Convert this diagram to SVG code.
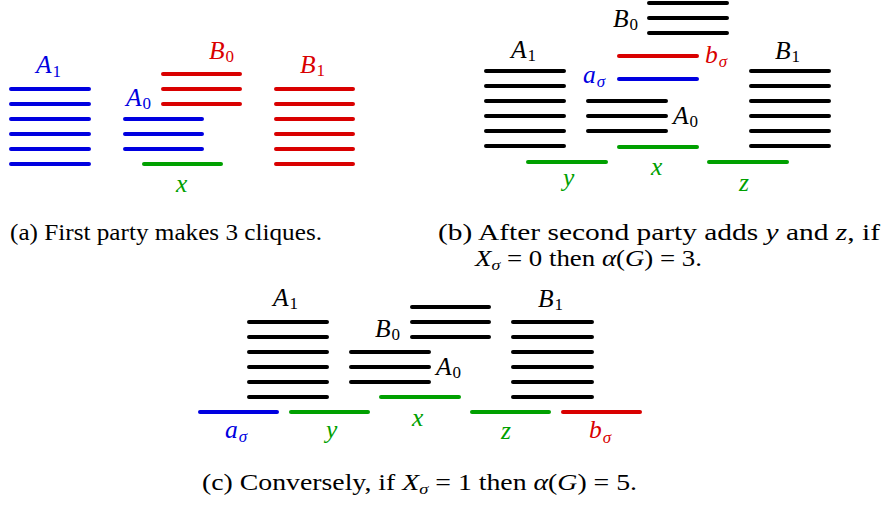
<svg xmlns="http://www.w3.org/2000/svg" width="884" height="505" viewBox="0 0 884 505">
<style>
.ln{fill:none;stroke-width:4;stroke-linecap:round}
.bl{stroke:#0000e0}.rd{stroke:#d90000}.gr{stroke:#00a000}.bk{stroke:#000}
.m{font-style:italic;font-size:25.5px}
.s{font-size:17px;font-style:normal}
.g{font-size:17px}
.tb{fill:#0000e0}.tr{fill:#d90000}.tg{fill:#00a000}.tk{fill:#000}
.cap{font-size:22.5px;fill:#000}
.i{font-style:italic}
</style>
<rect width="884" height="505" fill="#fff"/>
<!-- Panel (a) -->
<g id="a-A1"><path class="ln bl" d="M11 89H89M11 104H89M11 119H89M11 134H89M11 149H89M11 164H89"/><text font-family="Liberation Serif" class="m tb" x="36" y="73">A<tspan class="s" dx="1" dy="4">1</tspan></text></g>
<g id="a-A0"><path class="ln bl" d="M125 119H202M125 134H202M125 149H202"/><text font-family="Liberation Serif" class="m tb" x="126" y="106">A<tspan class="s" dx="1" dy="3">0</tspan></text></g>
<g id="a-B0"><path class="ln rd" d="M163 74H240M163 89H240M163 104H240"/><text font-family="Liberation Serif" class="m tr" x="209" y="59">B<tspan class="s" dx="1" dy="3">0</tspan></text></g>
<g id="a-B1"><path class="ln rd" d="M276 89H353M276 104H353M276 119H353M276 134H353M276 149H353M276 164H353"/><text font-family="Liberation Serif" class="m tr" x="300" y="73">B<tspan class="s" dx="1" dy="3">1</tspan></text></g>
<g id="a-x"><path class="ln gr" d="M144 164H221"/><text font-family="Liberation Serif" class="m tg" x="176" y="192">x</text></g>
<!-- Panel (b) -->
<g id="b-B0"><path class="ln bk" d="M649 3H727M649 18H727M649 33H727"/><text font-family="Liberation Serif" class="m tk" x="613" y="27">B<tspan class="s" dx="1" dy="3">0</tspan></text></g>
<g id="b-bs"><path class="ln rd" d="M619 56H697"/><text font-family="Liberation Serif" class="m tr" x="705" y="63">b<tspan class="g" dx="1" dy="4">σ</tspan></text></g>
<g id="b-as"><path class="ln bl" d="M619 79H697"/><text font-family="Liberation Serif" class="m tb" x="583" y="83">a<tspan class="g" dx="1" dy="4">σ</tspan></text></g>
<g id="b-A1"><path class="ln bk" d="M486 71H564M486 86H564M486 101H564M486 116H564M486 131H564M486 146H564"/><text font-family="Liberation Serif" class="m tk" x="511" y="58">A<tspan class="s" dx="1" dy="3">1</tspan></text></g>
<g id="b-A0"><path class="ln bk" d="M588 101H666M588 116H666M588 131H666"/><text font-family="Liberation Serif" class="m tk" x="673" y="124">A<tspan class="s" dx="1" dy="3">0</tspan></text></g>
<g id="b-x"><path class="ln gr" d="M619 147H697"/><text font-family="Liberation Serif" class="m tg" x="651" y="175">x</text></g>
<g id="b-y"><path class="ln gr" d="M528 162H606"/><text font-family="Liberation Serif" class="m tg" x="563" y="186">y</text></g>
<g id="b-z"><path class="ln gr" d="M709 162H787"/><text font-family="Liberation Serif" class="m tg" x="739" y="191">z</text></g>
<g id="b-B1"><path class="ln bk" d="M751 71H829M751 86H829M751 101H829M751 116H829M751 131H829M751 146H829"/><text font-family="Liberation Serif" class="m tk" x="775" y="59">B<tspan class="s" dx="1" dy="3">1</tspan></text></g>
<!-- Panel (c) -->
<g id="c-A1"><path class="ln bk" d="M249 322H327M249 337H327M249 352H327M249 367H327M249 382H327M249 397H327"/><text font-family="Liberation Serif" class="m tk" x="273" y="306">A<tspan class="s" dx="1" dy="3">1</tspan></text></g>
<g id="c-B0"><path class="ln bk" d="M412 307H489M412 322H489M412 337H489"/><text font-family="Liberation Serif" class="m tk" x="375" y="337">B<tspan class="s" dx="1" dy="3">0</tspan></text></g>
<g id="c-A0"><path class="ln bk" d="M351 352H429M351 367H429M351 382H429"/><text font-family="Liberation Serif" class="m tk" x="436" y="375">A<tspan class="s" dx="1" dy="3">0</tspan></text></g>
<g id="c-B1"><path class="ln bk" d="M513 322H592M513 337H592M513 352H592M513 367H592M513 382H592M513 397H592"/><text font-family="Liberation Serif" class="m tk" x="538" y="307">B<tspan class="s" dx="1" dy="3">1</tspan></text></g>
<g id="c-x"><path class="ln gr" d="M381 397H459"/><text font-family="Liberation Serif" class="m tg" x="412" y="426">x</text></g>
<g id="c-as"><path class="ln bl" d="M200 412H277"/><text font-family="Liberation Serif" class="m tb" x="225" y="438">a<tspan class="g" dx="1" dy="4">σ</tspan></text></g>
<g id="c-y"><path class="ln gr" d="M291 412H368"/><text font-family="Liberation Serif" class="m tg" x="326" y="438">y</text></g>
<g id="c-z"><path class="ln gr" d="M472 412H549"/><text font-family="Liberation Serif" class="m tg" x="501" y="439">z</text></g>
<g id="c-bs"><path class="ln rd" d="M563 412H640"/><text font-family="Liberation Serif" class="m tr" x="589" y="438">b<tspan class="g" dx="1" dy="5">σ</tspan></text></g>
<!-- Captions -->
<text font-family="Liberation Serif" class="cap" x="10" y="240" textLength="312" lengthAdjust="spacingAndGlyphs">(a) First party makes 3 cliques.</text>
<text font-family="Liberation Serif" class="cap" x="438" y="240" textLength="442" lengthAdjust="spacingAndGlyphs">(b) After second party adds <tspan class="i">y</tspan> and <tspan class="i">z</tspan>, if</text>
<text font-family="Liberation Serif" class="cap" x="475" y="266" textLength="227" lengthAdjust="spacingAndGlyphs"><tspan class="i">X</tspan><tspan class="i" font-size="15" dy="4">σ</tspan><tspan dy="-4"> = 0 then </tspan><tspan class="i">α</tspan>(<tspan class="i">G</tspan>) = 3.</text>
<text font-family="Liberation Serif" class="cap" x="202" y="490" textLength="435" lengthAdjust="spacingAndGlyphs">(c) Conversely, if <tspan class="i">X</tspan><tspan class="i" font-size="15" dy="4">σ</tspan><tspan dy="-4"> = 1 then </tspan><tspan class="i">α</tspan>(<tspan class="i">G</tspan>) = 5.</text>
</svg>
